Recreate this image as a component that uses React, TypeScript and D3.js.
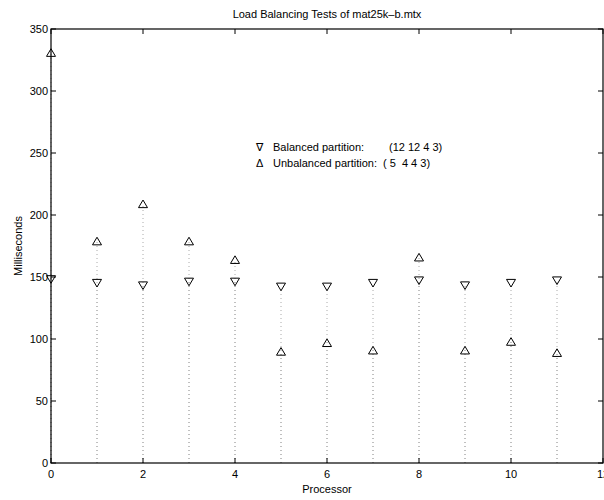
import React, { useEffect } from 'react';
import * as d3 from 'd3';

// processors on the x axis
const processors = [0, 1, 2, 3, 4, 5, 6, 7, 8, 9, 10, 11];
// milliseconds
const balanced = [148, 145, 143, 146, 146, 142, 142, 145, 147, 143, 145, 147];
const unbalanced = [331, 179, 209, 179, 164, 90, 97, 91, 166, 91, 98, 89];
const xTicks = [0, 2, 4, 6, 8, 10, 12];
const yTicks = [0, 50, 100, 150, 200, 250, 300, 350];

const width = 604;
const height = 500;
const margin = { top: 29, right: 1, bottom: 37, left: 51 };
const font = "'Liberation Sans', Arial, Helvetica, sans-serif";

function triangle(cx: number, cy: number, up: boolean) {
  const w = 4.5;
  const h = 3.8;
  return up
    ? `M${cx - w},${cy + h}L${cx + w},${cy + h}L${cx},${cy - h}Z`
    : `M${cx - w},${cy - h}L${cx + w},${cy - h}L${cx},${cy + h}Z`;
}

export default function App() {
  useEffect(() => {
    document.body.style.margin = '0';
  }, []);

  const x = d3.scaleLinear().domain([0, 12]).range([margin.left, width - margin.right]);
  const y = d3.scaleLinear().domain([0, 350]).range([height - margin.bottom, margin.top]);
  const x0 = x(0), x1 = x(12), y0 = y(0), y1 = y(350);
  const tick = 5;

  return (
    <svg width={width} height={height} style={{ display: 'block', background: '#fff' }} fontFamily={font}>
      {/* stems */}
      {processors.map((p, i) => (
        <g key={`s${p}`} stroke="#666" strokeWidth={1} strokeDasharray="1,3" opacity={0.55}>
          <line x1={x(p)} x2={x(p)} y1={y0} y2={y(balanced[i])} />
          <line x1={x(p)} x2={x(p)} y1={y0} y2={y(unbalanced[i])} />
        </g>
      ))}

      {/* box + ticks */}
      <rect x={x0} y={y1} width={x1 - x0} height={y0 - y1} fill="none" stroke="#000" strokeWidth={1.2} />
      {xTicks.map((t) => (
        <g key={`xt${t}`} stroke="#000">
          <line x1={x(t)} x2={x(t)} y1={y0} y2={y0 - tick} />
          <line x1={x(t)} x2={x(t)} y1={y1} y2={y1 + tick} />
        </g>
      ))}
      {yTicks.map((t) => (
        <g key={`yt${t}`} stroke="#000">
          <line x1={x0} x2={x0 + tick} y1={y(t)} y2={y(t)} />
          <line x1={x1} x2={x1 - tick} y1={y(t)} y2={y(t)} />
        </g>
      ))}

      {/* markers */}
      {processors.map((p, i) => (
        <g key={`m${p}`} fill="none" stroke="#000" strokeWidth={1}>
          <path d={triangle(x(p), y(balanced[i]), false)} />
          <path d={triangle(x(p), y(unbalanced[i]), true)} />
        </g>
      ))}

      {/* tick labels */}
      {xTicks.map((t) => (
        <text key={`xl${t}`} x={x(t)} y={y0 + 15} textAnchor="middle" fontSize={11} fill="#000">
          {t}
        </text>
      ))}
      {yTicks.map((t) => (
        <text key={`yl${t}`} x={x0 - 3} y={y(t) + 4} textAnchor="end" fontSize={11} fill="#000">
          {t}
        </text>
      ))}

      {/* titles */}
      <text x={(x0 + x1) / 2} y={18} textAnchor="middle" fontSize={11} fill="#000">
        Load Balancing Tests of mat25k–b.mtx
      </text>
      <text x={(x0 + x1) / 2} y={493} textAnchor="middle" fontSize={11} fill="#000">
        Processor
      </text>
      <text transform={`translate(22,${(y0 + y1) / 2}) rotate(-90)`} textAnchor="middle" fontSize={11} fill="#000">
        Milliseconds
      </text>

      {/* legend */}
      <g fontSize={11} fill="#000" style={{ whiteSpace: 'pre' }}>
        <text x={256} y={151}>∇</text>
        <text x={273} y={151}>Balanced partition:</text>
        <text x={389} y={151}>(12 12 4 3)</text>
        <text x={256} y={167}>Δ</text>
        <text x={273} y={167}>Unbalanced partition:</text>
        <text x={383} y={167} xmlSpace="preserve">( 5  4 4 3)</text>
      </g>
    </svg>
  );
}
